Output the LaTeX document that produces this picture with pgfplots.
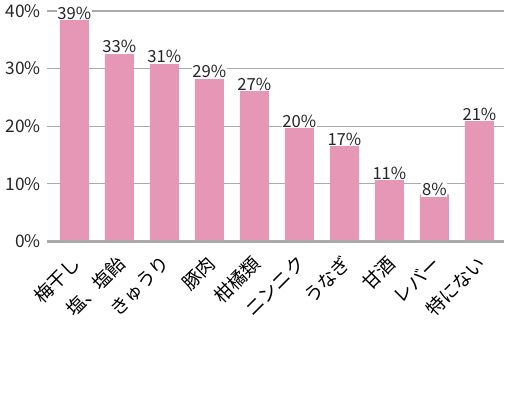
\documentclass[border=0pt]{standalone}
\usepackage{fontspec}
\usepackage{pgfplots}
\usepackage{pgfplotstable}
\pgfplotsset{compat=1.18}
\setmainfont{Noto Sans CJK JP}
\definecolor{barpink}{HTML}{E797B6}
\definecolor{gridgray}{HTML}{AAAAAA}
\pgfplotstableread{
x y lab
0 38.8 39
1 33.0 33
2 31.3 31
3 28.7 29
4 26.5 27
5 20.1 20
6 17.0 17
7 11.1 11
8 8.2 8
9 21.3 21
}\datatab
\begin{document}
\begin{tikzpicture}
\path (0,0) rectangle (378.75pt,300pt);
\begin{axis}[
  at={(35.25pt,119.25pt)}, anchor=south west,
  scale only axis, width=343.5pt, height=173.25pt,
  xmin=-0.61, xmax=9.545, ymin=0, ymax=40,
  axis line style={draw=none},
  ytick={0,10,20,30,40},
  yticklabels={0\%,10\%,20\%,30\%,40\%},
  yticklabel style={font=\fontsize{13pt}{14pt}\selectfont, text=black!85, xshift=-1pt},
  ymajorgrids, grid style={gridgray, line width=0.8pt},
  major tick length=0pt,
  xtick=data,
  xticklabels={梅干し,塩、塩飴,きゅうり,豚肉,柑橘類,ニンニク,うなぎ,甘酒,レバー,特にない},
  xticklabel style={rotate=45, anchor=north east, font=\fontsize{14pt}{15pt}\selectfont, inner sep=0.5pt, xshift=-8pt, yshift=-4pt},
  xtick style={draw=none},
  clip=false,
  point meta=explicit symbolic,
  nodes near coords={\pgfplotspointmeta\%},
  every node near coord/.append style={font=\fontsize{12.5pt}{13pt}\selectfont, fill=white, inner sep=0.5pt, text=black!85, yshift=-2pt},
]
\addplot[ybar, bar width=21.75pt, fill=barpink, draw=none] table[x=x, y=y, meta=lab] {\datatab};
\draw[gridgray, line width=1.6pt] (axis cs:-0.61,0) -- (axis cs:9.545,0);
\end{axis}
\end{tikzpicture}
\end{document}
